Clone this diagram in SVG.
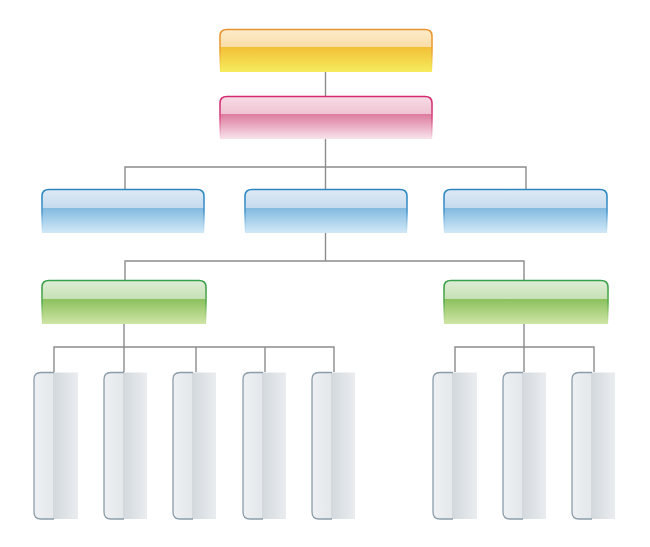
<svg xmlns="http://www.w3.org/2000/svg" width="650" height="547" viewBox="0 0 650 547">
<defs>
<linearGradient id="gY" x1="0" y1="0" x2="0" y2="1">
<stop offset="0" stop-color="#FCEBCB"/><stop offset="0.42" stop-color="#F9DDA6"/>
<stop offset="0.42" stop-color="#F2C037"/><stop offset="1" stop-color="#F6EC5E"/></linearGradient>
<linearGradient id="gP" x1="0" y1="0" x2="0" y2="1">
<stop offset="0" stop-color="#F6DBE5"/><stop offset="0.42" stop-color="#EFC3D2"/>
<stop offset="0.42" stop-color="#DD7C9E"/><stop offset="1" stop-color="#F8E3EB"/></linearGradient>
<linearGradient id="gB" x1="0" y1="0" x2="0" y2="1">
<stop offset="0" stop-color="#DFEAF5"/><stop offset="0.43" stop-color="#C4DAEE"/>
<stop offset="0.43" stop-color="#82BAE0"/><stop offset="1" stop-color="#D2E9F7"/></linearGradient>
<linearGradient id="gG" x1="0" y1="0" x2="0" y2="1">
<stop offset="0" stop-color="#DFEDD6"/><stop offset="0.43" stop-color="#C6E0B4"/>
<stop offset="0.43" stop-color="#8CC15E"/><stop offset="1" stop-color="#CFE5A6"/></linearGradient>
<linearGradient id="sY" x1="0" y1="0" x2="0" y2="1"><stop offset="0" stop-color="#E8922C"/><stop offset="0.5" stop-color="#EBA53A"/><stop offset="1" stop-color="#F2D24A" stop-opacity="0"/></linearGradient>
<linearGradient id="sP" x1="0" y1="0" x2="0" y2="1"><stop offset="0" stop-color="#D2286F"/><stop offset="0.5" stop-color="#D84C85"/><stop offset="1" stop-color="#E890B0" stop-opacity="0"/></linearGradient>
<linearGradient id="sB" x1="0" y1="0" x2="0" y2="1"><stop offset="0" stop-color="#2A85C0"/><stop offset="0.5" stop-color="#4A98CC"/><stop offset="1" stop-color="#9ACBEA" stop-opacity="0"/></linearGradient>
<linearGradient id="sG" x1="0" y1="0" x2="0" y2="1"><stop offset="0" stop-color="#37A04A"/><stop offset="0.5" stop-color="#5AAE50"/><stop offset="1" stop-color="#A8D07A" stop-opacity="0"/></linearGradient>
<linearGradient id="gL" x1="0" y1="0" x2="1" y2="0">
<stop offset="0" stop-color="#EEF0F3"/><stop offset="0.44" stop-color="#E4E8EB"/>
<stop offset="0.44" stop-color="#D2D8DC"/><stop offset="1" stop-color="#EAEDF0"/></linearGradient>
<style>
.con{fill:none;stroke:#8C8C8C;stroke-width:1.4}
.lf{fill:url(#gL)}
.ls{fill:none;stroke:#8A9DA9;stroke-width:1.3}
.y{fill:url(#gY);stroke:url(#sY);stroke-width:1.6}
.p{fill:url(#gP);stroke:url(#sP);stroke-width:1.6}
.b{fill:url(#gB);stroke:url(#sB);stroke-width:1.6}
.g{fill:url(#gG);stroke:url(#sG);stroke-width:1.6}
</style>
</defs>
<rect width="650" height="547" fill="#FFFFFF"/>
<g id="connectors">
<path class="con" d="M325.5 72V96"/>
<path class="con" d="M325.5 139V167M125 189V167H526V189M325.5 167V189"/>
<path class="con" d="M325.5 233V261M125 280V261H524V280"/>
<path class="con" d="M124 324V347M54 372V347H334V372M124 347V372M196 347V372M265 347V372"/>
<path class="con" d="M524 324V347M455 372V347H594V372M524 347V372"/>
</g>
<g id="n-top"><path class="y" d="M220 72V36Q220 29.5 227 29.5H425Q432 29.5 432 36V72Z"/></g>
<g id="n-second"><path class="p" d="M220 139V103Q220 96.5 227 96.5H425Q432 96.5 432 103V139Z"/></g>
<g id="n-blue1"><path class="b" d="M42 233V196Q42 189.5 49 189.5H197Q204 189.5 204 196V233Z"/></g>
<g id="n-blue2"><path class="b" d="M245 233V196Q245 189.5 252 189.5H400Q407 189.5 407 196V233Z"/></g>
<g id="n-blue3"><path class="b" d="M444 233V196Q444 189.5 451 189.5H600Q607 189.5 607 196V233Z"/></g>
<g id="n-green1"><path class="g" d="M42 324V287Q42 280.5 49 280.5H199Q206 280.5 206 287V324Z"/></g>
<g id="n-green2"><path class="g" d="M444 324V287Q444 280.5 451 280.5H601Q608 280.5 608 287V324Z"/></g>
<g id="leaf1"><path class="lf" d="M78 372.5H41Q34 372.5 34 379.5V512Q34 519 41 519H78Z"/><path class="ls" d="M54 372.5H41Q34 372.5 34 379.5V512Q34 519 41 519H54"/></g>
<g id="leaf2"><path class="lf" d="M147 372.5H111Q104 372.5 104 379.5V512Q104 519 111 519H147Z"/><path class="ls" d="M124 372.5H111Q104 372.5 104 379.5V512Q104 519 111 519H124"/></g>
<g id="leaf3"><path class="lf" d="M216 372.5H180Q173 372.5 173 379.5V512Q173 519 180 519H216Z"/><path class="ls" d="M193 372.5H180Q173 372.5 173 379.5V512Q173 519 180 519H193"/></g>
<g id="leaf4"><path class="lf" d="M286 372.5H250Q243 372.5 243 379.5V512Q243 519 250 519H286Z"/><path class="ls" d="M263 372.5H250Q243 372.5 243 379.5V512Q243 519 250 519H263"/></g>
<g id="leaf5"><path class="lf" d="M355 372.5H319Q312 372.5 312 379.5V512Q312 519 319 519H355Z"/><path class="ls" d="M332 372.5H319Q312 372.5 312 379.5V512Q312 519 319 519H332"/></g>
<g id="leaf6"><path class="lf" d="M477 372.5H440Q433 372.5 433 379.5V512Q433 519 440 519H477Z"/><path class="ls" d="M453 372.5H440Q433 372.5 433 379.5V512Q433 519 440 519H453"/></g>
<g id="leaf7"><path class="lf" d="M546 372.5H510Q503 372.5 503 379.5V512Q503 519 510 519H546Z"/><path class="ls" d="M523 372.5H510Q503 372.5 503 379.5V512Q503 519 510 519H523"/></g>
<g id="leaf8"><path class="lf" d="M615 372.5H579Q572 372.5 572 379.5V512Q572 519 579 519H615Z"/><path class="ls" d="M592 372.5H579Q572 372.5 572 379.5V512Q572 519 579 519H592"/></g>
</svg>
